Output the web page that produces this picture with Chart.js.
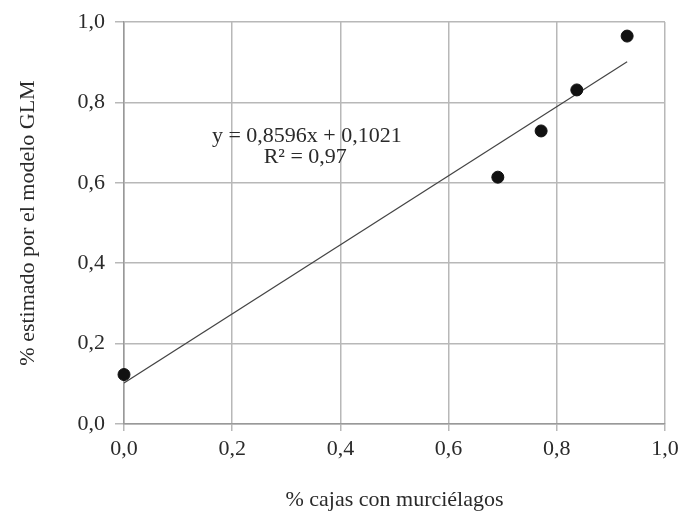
<!DOCTYPE html>
<html>
<head>
<meta charset="utf-8">
<script src="https://cdn.jsdelivr.net/npm/chart.js@4/dist/chart.umd.min.js"></script>
<style>
  body { margin: 0; background: #fff; }
  #wrap { width: 681px; height: 513px; }
</style>
</head>
<body>
<div id="wrap"><canvas id="scatterChart"></canvas></div>
<script>
// observed points (% cajas con murcielagos vs % estimado GLM)
var cajasX = [0.0, 0.691, 0.771, 0.837, 0.930];
var estimadoY = [0.123, 0.614, 0.729, 0.831, 0.965];
// linear trendline ends
var trendX = [0.0, 0.93];
var trendY = [0.102, 0.901];
var eqLines = ["y = 0,8596x + 0,1021", "R\u00b2 = 0,97"];

var fmt = function (v) { return v.toFixed(1).replace(".", ","); };
var serif = "'Liberation Serif', 'DejaVu Serif', serif";

var eqLabel = {
  id: "eqLabel",
  afterDatasetsDraw: function (chart) {
    var ctx = chart.ctx;
    var xs = chart.scales.x, ys = chart.scales.y;
    ctx.save();
    ctx.fillStyle = "#2a2a2a";
    ctx.font = "22px " + serif;
    ctx.textAlign = "center";
    ctx.textBaseline = "middle";
    ctx.fillText(eqLines[0], xs.getPixelForValue(0.338), ys.getPixelForValue(0.716));
    ctx.fillText(eqLines[1], xs.getPixelForValue(0.335), ys.getPixelForValue(0.664));
    ctx.restore();
  }
};

var ctx = document.getElementById("scatterChart").getContext("2d");
var chart = new Chart(ctx, {
  type: "scatter",
  data: {
    datasets: [
      {
        label: "datos",
        data: cajasX.map(function (x, i) { return { x: x, y: estimadoY[i] }; }),
        backgroundColor: "#111",
        borderColor: "#111",
        pointRadius: 6,
        pointHoverRadius: 6,
        clip: false,
      },
      {
        label: "tendencia",
        type: "line",
        data: trendX.map(function (x, i) { return { x: x, y: trendY[i] }; }),
        borderColor: "#444",
        borderWidth: 1.2,
        pointRadius: 0,
        fill: false,
      },
    ],
  },
  options: {
    responsive: true,
    maintainAspectRatio: false,
    animation: false,
    layout: { padding: { left: 0, right: 16, top: 22, bottom: 0 } },
    plugins: { legend: { display: false }, tooltip: { enabled: false } },
    scales: {
      x: {
        type: "linear",
        min: 0,
        max: 1,
        afterFit: function (s) { s.height = 89; s.paddingLeft = 0; s.paddingRight = 0; },
        ticks: { stepSize: 0.2, callback: fmt, color: "#2a2a2a", padding: 5,
                 font: { family: serif, size: 22 } },
        grid: { color: "#b8b8b8", lineWidth: 1.5, tickLength: 7 },
        border: { color: "#999", width: 1.5 },
        title: { display: true, text: "% cajas con murciélagos", color: "#2a2a2a",
                 font: { family: serif, size: 22 }, padding: { top: 0, bottom: 0 } },
      },
      y: {
        type: "linear",
        min: 0,
        max: 1,
        afterFit: function (s) { s.width = 124; s.paddingTop = 0; s.paddingBottom = 0; },
        ticks: { stepSize: 0.2, callback: fmt, color: "#2a2a2a", padding: 10,
                 font: { family: serif, size: 22 } },
        grid: { color: "#b8b8b8", lineWidth: 1.5, tickLength: 9 },
        border: { color: "#999", width: 1.5 },
        title: { display: true, text: "% estimado por el modelo GLM", color: "#2a2a2a",
                 font: { family: serif, size: 22 }, padding: { top: 15, bottom: 0 } },
      },
    },
  },
  plugins: [eqLabel],
});
</script>
</body>
</html>
